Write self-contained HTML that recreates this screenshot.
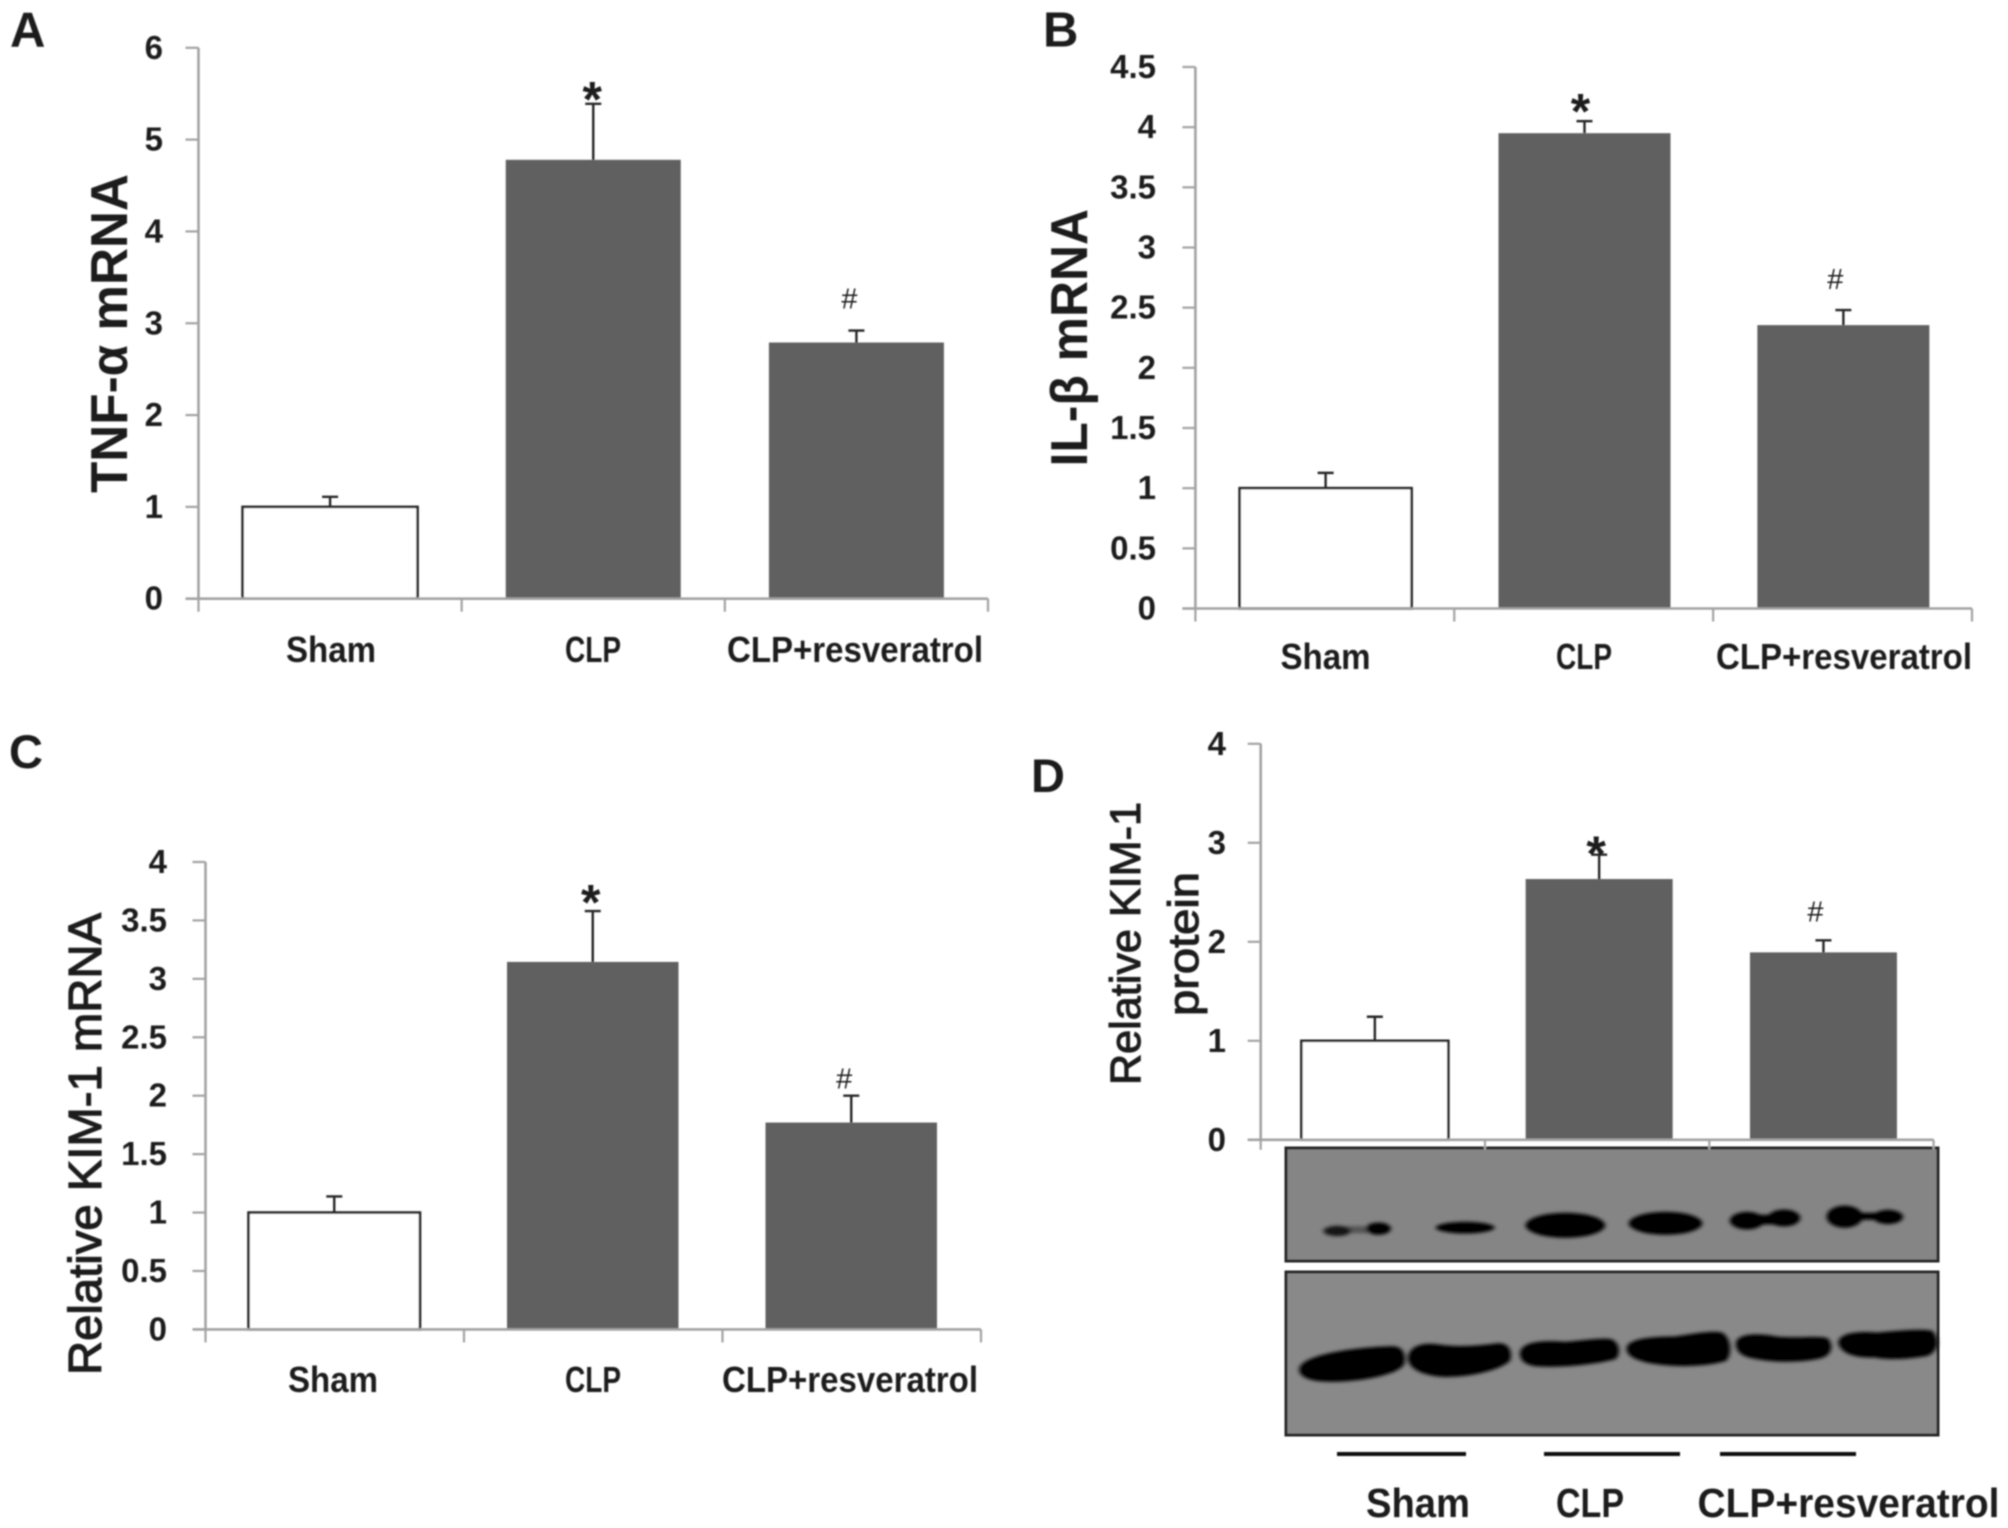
<!DOCTYPE html>
<html lang="en">
<head>
<meta charset="utf-8">
<title>Cytokine and KIM-1 expression bar charts</title>
<style>
html,body{margin:0;padding:0;background:#fff;width:2008px;height:1528px;overflow:hidden}
svg{display:block}
text{font-family:"Liberation Sans",sans-serif;fill:#1c1c1c}
</style>
</head>
<body>
<svg id="figure" xmlns="http://www.w3.org/2000/svg" width="2008" height="1528" viewBox="0 0 2008 1528">
  <defs>
    <filter id="soft" x="-5%" y="-5%" width="110%" height="110%"><feGaussianBlur stdDeviation="0.8"/></filter>
    <filter id="bandblur" x="-20%" y="-20%" width="140%" height="140%"><feGaussianBlur stdDeviation="5"/></filter>
  </defs>
  <g id="root" filter="url(#soft)">
    <g>
      <rect x="1286" y="1148" width="652" height="113" fill="#858585" stroke="#262626" stroke-width="3"/>
      <g transform="translate(1270 1130) scale(0.4337 0.3333)" fill="#050505" filter="url(#bandblur)">
        <rect x="150" y="288" width="100" height="22" fill="#555"/>
        <ellipse cx="155" cy="303" rx="32" ry="16" fill="#181818"/>
        <ellipse cx="250" cy="296" rx="29" ry="19"/>
        <ellipse cx="450" cy="293" rx="68" ry="18"/>
        <ellipse cx="681" cy="286" rx="92" ry="38"/>
        <ellipse cx="912" cy="280" rx="85" ry="35"/>
        <ellipse cx="1100" cy="272" rx="40" ry="27"/>
        <ellipse cx="1185" cy="264" rx="38" ry="26"/>
        <rect x="1100" y="254" width="85" height="30"/>
        <ellipse cx="1325" cy="260" rx="42" ry="34"/>
        <ellipse cx="1425" cy="261" rx="35" ry="22"/>
        <rect x="1325" y="248" width="100" height="22"/>
      </g>
      <rect x="1286" y="1272" width="652" height="163" fill="#898989" stroke="#262626" stroke-width="3"/>
      <g transform="translate(1270 1130) scale(0.4337 0.3333)" fill="#040404" filter="url(#bandblur)">
        <path d="M68 712C78 676 180 652 282 648C308 648 314 675 310 702C297 738 190 761 120 755C83 751 63 737 68 712Z"/>
        <path d="M318 680C323 647 350 637 385 642C430 652 480 647 527 639C552 639 560 665 554 692C532 723 450 745 395 741C343 735 316 712 318 680Z"/>
        <path d="M576 670C578 637 620 629 680 635C720 632 760 622 787 627C807 637 810 672 797 688C740 708 650 715 608 709C588 703 576 692 576 670Z"/>
        <path d="M822 655C823 628 870 619 930 619C975 612 1015 600 1042 607C1064 622 1067 672 1052 693C1000 713 920 713 868 698C838 688 822 677 822 655Z"/>
        <path d="M1074 640C1076 612 1115 607 1170 619C1220 625 1270 615 1287 625C1300 645 1297 675 1272 685C1220 701 1150 698 1103 683C1083 675 1074 662 1074 640Z"/>
        <path d="M1310 640C1310 609 1350 602 1400 607C1450 602 1500 595 1527 602C1544 625 1544 662 1517 678C1470 689 1420 691 1395 683C1360 685 1318 678 1310 640Z"/>
      </g>
      <rect x="1337" y="1452" width="129" height="4" fill="#111"/>
      <rect x="1544" y="1452" width="136" height="4" fill="#111"/>
      <rect x="1720" y="1452" width="136" height="4" fill="#111"/>
    </g>
    <g id="charts"></g>
    <text x="10" y="46.5" font-size="49" font-weight="700">A</text>
    <text x="1043" y="46.5" font-size="49" font-weight="700">B</text>
    <text x="9" y="768" font-size="47" font-weight="700">C</text>
    <text x="1031" y="792" font-size="47" font-weight="700">D</text>
    <text transform="translate(1198 1016) rotate(-90)" font-size="43" font-weight="400" stroke="#1c1c1c" stroke-width="1.1" textLength="144" lengthAdjust="spacingAndGlyphs">protein</text>
  </g>
</svg>
<script>
const categories = ['Sham', 'CLP', 'CLP+resveratrol'];
const significance = ['', '*', '#'];

const tnfTicks = ['0', '1', '2', '3', '4', '5', '6'];
const tnfValues = [1.0, 4.78, 2.79];
const tnfErrorTops = [1.11, 5.39, 2.92];

const il1Ticks = ['0', '0.5', '1', '1.5', '2', '2.5', '3', '3.5', '4', '4.5'];
const il1Values = [1.0, 3.95, 2.355];
const il1ErrorTops = [1.127, 4.05, 2.48];

const kimMrnaTicks = ['0', '0.5', '1', '1.5', '2', '2.5', '3', '3.5', '4'];
const kimMrnaValues = [1.0, 3.145, 1.77];
const kimMrnaErrorTops = [1.138, 3.58, 2.0];

const kimProteinTicks = ['0', '1', '2', '3', '4'];
const kimProteinValues = [1.0, 2.634, 1.893];
const kimProteinErrorTops = [1.243, 2.88, 2.015];

const panels = [
  {key: 'a', ticks: tnfTicks, values: tnfValues, errors: tnfErrorTops, title: 'TNF-\u03B1 mRNA',
   left: 198.5, right: 988, top: 47.8, base: 598.7, barW: 175, barShift: 0, tickRight: 163,
   titleX: 127, titleY: 493, titleLen: 319, titleSize: 52, titleWeight: 700, titleStroke: 0,
   labelY: 662, labelSize: 36, labelCenters: [331, 593, 855], labelWidths: [90, 56, 256],
   markShift: [0, -1, -7], markGap: [0, 5, 22], tickFont: 33},
  {key: 'b', ticks: il1Ticks, values: il1Values, errors: il1ErrorTops, title: 'IL-\u03B2 mRNA',
   left: 1195.4, right: 1972, top: 67, base: 608.5, barW: 172, barShift: 0.8, tickRight: 1156,
   titleX: 1087, titleY: 466.5, titleLen: 257.5, titleSize: 52, titleWeight: 700, titleStroke: 0,
   labelY: 669, labelSize: 36, labelCenters: [1325.5, 1584, 1844], labelWidths: [90, 56, 256],
   markShift: [0, -4, -8], markGap: [0, 10, 21], tickFont: 33},
  {key: 'c', ticks: kimMrnaTicks, values: kimMrnaValues, errors: kimMrnaErrorTops, title: 'Relative KIM-1 mRNA',
   left: 205.5, right: 981, top: 862, base: 1329.4, barW: 171.5, barShift: -0.5, tickRight: 167,
   titleX: 101, titleY: 1375, titleLen: 462, titleSize: 46, titleWeight: 400, titleStroke: 1.2,
   labelY: 1392, labelSize: 36, labelCenters: [333, 593, 850], labelWidths: [90, 56, 256],
   markShift: [0, -2, -7], markGap: [0, 9, 7], tickFont: 33},
  {key: 'd', ticks: kimProteinTicks, values: kimProteinValues, errors: kimProteinErrorTops, title: 'Relative KIM-1',
   left: 1260.7, right: 1933.6, top: 743.8, base: 1139.8, barW: 147, barShift: 2, tickRight: 1226,
   titleX: 1140, titleY: 1085, titleLen: 283, titleSize: 43, titleWeight: 400, titleStroke: 1.1,
   labelY: 1517, labelSize: 41, labelCenters: [1418, 1590, 1848.5], labelWidths: [104, 68, 302],
   markShift: [0, -3, -8], markGap: [0, 1, 19], tickFont: 33}
];

const SVGNS = 'http://www.w3.org/2000/svg';
const host = document.getElementById('charts');

function shape(parent, tag, attrs) {
  const node = document.createElementNS(SVGNS, tag);
  for (const k in attrs) node.setAttribute(k, attrs[k]);
  parent.appendChild(node);
  return node;
}

function drawPanel(p) {
  const panel = shape(host, 'g', {});
  
  

  const maxValue = parseFloat(p.ticks[p.ticks.length - 1]);
  const yScale = v => p.base - (v / maxValue) * (p.base - p.top);
  const step = (p.right - p.left) / categories.length;
  const xCenter = i => p.left + step * (i + 0.5) + p.barShift;

  const yAxis = shape(panel, 'line', {x1: p.left, x2: p.left, y1: p.top, y2: p.base, stroke: '#a3a3a3', 'stroke-width': 2.6});
  
  

  p.ticks.forEach(t => {
    const y = yScale(parseFloat(t));
    const tick = shape(panel, 'line', {x1: p.left - 13, x2: p.left, y1: y, y2: y, stroke: '#a3a3a3', 'stroke-width': 2.2});
    
    
    const label = shape(panel, 'text', {x: p.tickRight, y: y + 11, 'text-anchor': 'end', 'font-size': p.tickFont, 'font-weight': 700});
    
    
    label.textContent = t;
  });

  categories.forEach((name, i) => {
    const cx = xCenter(i);
    const top = yScale(p.values[i]);
    const errTop = yScale(p.errors[i]);

    const errLine = shape(panel, 'line', {x1: cx, x2: cx, y1: errTop, y2: top, stroke: '#262626', 'stroke-width': 2.4});
    
    
    const errCap = shape(panel, 'line', {x1: cx - 8, x2: cx + 8, y1: errTop, y2: errTop, stroke: '#262626', 'stroke-width': 2.4});
    
    

    const isControl = i === 0;
    const bar = shape(panel, 'rect', {
      x: cx - p.barW / 2, y: top, width: p.barW, height: p.base - top,
      fill: isControl ? '#ffffff' : '#606060',
      stroke: isControl ? '#262626' : 'none',
      'stroke-width': isControl ? 2.6 : 0
    });
    
    

    const mark = significance[i];
    if (mark === '*') {
      const fs = 50;
      const star = shape(panel, 'text', {x: cx + p.markShift[i], y: errTop - p.markGap[i] + 0.35 * fs, 'text-anchor': 'middle', 'font-size': fs, 'font-weight': 700});
      
      
      star.textContent = mark;
    } else if (mark === '#') {
      const hash = shape(panel, 'text', {x: cx + p.markShift[i], y: errTop - p.markGap[i], 'text-anchor': 'middle', 'font-size': 29});
      
      
      hash.textContent = mark;
    }

    const catLabel = shape(panel, 'text', {
      x: p.labelCenters[i], y: p.labelY, 'text-anchor': 'middle', 'font-size': p.labelSize, 'font-weight': 700,
      textLength: p.labelWidths[i], lengthAdjust: 'spacingAndGlyphs'
    });
    
    
    catLabel.textContent = name;
  });

  const xAxis = shape(panel, 'line', {x1: p.left - 13, x2: p.right, y1: p.base, y2: p.base, stroke: '#a3a3a3', 'stroke-width': 2.6});
  
  

  for (let i = 0; i <= categories.length; i++) {
    const x = p.left + step * i;
    const tickLen = p.key === 'd' ? 10 : 13;
    const xTick = shape(panel, 'line', {x1: x, x2: x, y1: p.base, y2: p.base + tickLen, stroke: '#a3a3a3', 'stroke-width': 2.2});
    
    
  }

  const title = shape(panel, 'text', {
    transform: 'translate(' + p.titleX + ' ' + p.titleY + ') rotate(-90)',
    'font-size': p.titleSize, 'font-weight': p.titleWeight, stroke: '#1c1c1c', 'stroke-width': p.titleStroke,
    textLength: p.titleLen, lengthAdjust: 'spacingAndGlyphs'
  });
  
  
  title.textContent = p.title;
}

panels.forEach(drawPanel);
</script>
</body>
</html>
